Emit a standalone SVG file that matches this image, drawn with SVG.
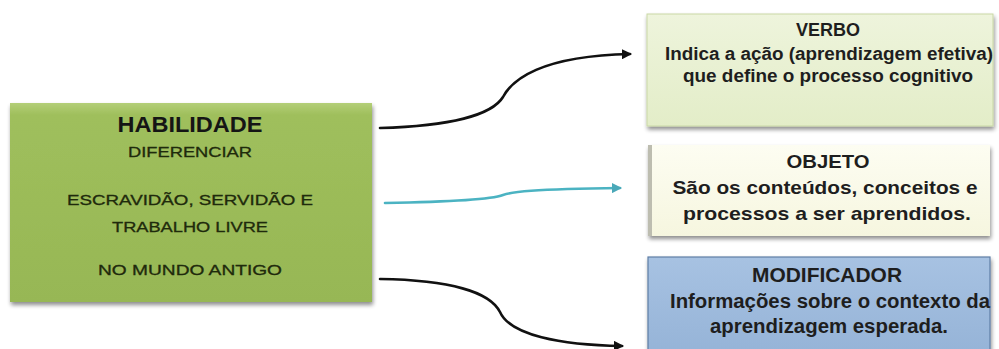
<svg xmlns="http://www.w3.org/2000/svg" width="999" height="349" viewBox="0 0 999 349">
<defs>
<style>
.t{font-family:"Liberation Sans",Arial,sans-serif;text-anchor:middle}
.b{font-weight:bold}
.dk{fill:#1e1e1e}
.gr{fill:#1f2a0c;stroke:#1f2a0c;stroke-width:0.3}
.con{fill:none;stroke-width:2.6;stroke-linecap:round}
</style>
<linearGradient id="gGreen" x1="0" y1="0" x2="0" y2="1">
<stop offset="0" stop-color="#b4cf78"/>
<stop offset="0.06" stop-color="#9fbf5c"/>
<stop offset="1" stop-color="#97b755"/>
</linearGradient>
<linearGradient id="gVerbo" x1="0" y1="0" x2="0" y2="1">
<stop offset="0" stop-color="#eef4dc"/>
<stop offset="1" stop-color="#e3edc8"/>
</linearGradient>
<linearGradient id="gObj" x1="0" y1="0" x2="0" y2="1">
<stop offset="0" stop-color="#fdfdf2"/>
<stop offset="1" stop-color="#f6f6df"/>
</linearGradient>
<linearGradient id="gMod" x1="0" y1="0" x2="0" y2="1">
<stop offset="0" stop-color="#a7c2e2"/>
<stop offset="1" stop-color="#95b3d7"/>
</linearGradient>
<filter id="sh" x="-5%" y="-5%" width="112%" height="115%">
<feGaussianBlur in="SourceAlpha" stdDeviation="2"/>
<feOffset dx="1" dy="3"/>
<feComponentTransfer><feFuncA type="linear" slope="0.45"/></feComponentTransfer>
<feMerge><feMergeNode/><feMergeNode in="SourceGraphic"/></feMerge>
</filter>
<marker id="arrK" viewBox="0 0 10 10" refX="8" refY="5" markerWidth="4" markerHeight="4" orient="auto" markerUnits="strokeWidth">
<path d="M0,0 L10,5 L0,10 z" fill="#111"/>
</marker>
<marker id="arrT" viewBox="0 0 10 10" refX="8" refY="5" markerWidth="4" markerHeight="4" orient="auto" markerUnits="strokeWidth">
<path d="M0,0 L10,5 L0,10 z" fill="#4aa8b8"/>
</marker>
</defs>
<rect width="999" height="349" fill="#ffffff"/>

<g id="connectors">
<path class="con" stroke="#111" marker-end="url(#arrK)" d="M380,128 C450,126 492,115 503,97 C512,80 540,56 630,54"/>
<path class="con" stroke="#4bb3c2" marker-end="url(#arrT)" d="M385,203 C440,202 490,200 503,195 C512,192 530,189 620,188"/>
<path class="con" stroke="#111" marker-end="url(#arrK)" d="M380,279 C450,280 490,292 500,312 C510,335 560,345 622,346"/>
</g>

<g id="habilidade">
<rect x="10" y="103" width="362" height="199" fill="url(#gGreen)" filter="url(#sh)"/>
<text class="t b" x="190" y="132" font-size="22" fill="#151515" textLength="145" lengthAdjust="spacingAndGlyphs">HABILIDADE</text>
<text class="t gr" x="190" y="157" font-size="14" textLength="124" lengthAdjust="spacingAndGlyphs">DIFERENCIAR</text>
<text class="t gr" x="190" y="205" font-size="14" textLength="246" lengthAdjust="spacingAndGlyphs">ESCRAVIDÃO, SERVIDÃO E</text>
<text class="t gr" x="190" y="232" font-size="14" textLength="156" lengthAdjust="spacingAndGlyphs">TRABALHO LIVRE</text>
<text class="t gr" x="190" y="275" font-size="14" textLength="184" lengthAdjust="spacingAndGlyphs">NO MUNDO ANTIGO</text>
</g>

<g id="verbo">
<rect x="647" y="14" width="346" height="112" fill="url(#gVerbo)" stroke="#c9d8a6" stroke-width="1" filter="url(#sh)"/>
<text class="t b dk" x="828" y="36" font-size="18" textLength="64" lengthAdjust="spacingAndGlyphs">VERBO</text>
<text class="t b dk" x="829" y="60" font-size="18" textLength="328" lengthAdjust="spacingAndGlyphs">Indica a ação (aprendizagem efetiva)</text>
<text class="t b dk" x="828" y="82" font-size="18" textLength="290" lengthAdjust="spacingAndGlyphs">que define o processo cognitivo</text>
</g>

<g id="objeto">
<rect x="648" y="145" width="342" height="91" fill="url(#gObj)" filter="url(#sh)"/>
<rect x="648" y="145" width="4" height="91" fill="#bdbdb0"/>
<text class="t b dk" x="828" y="168" font-size="19" textLength="83" lengthAdjust="spacingAndGlyphs">OBJETO</text>
<text class="t b dk" x="825" y="194" font-size="19" textLength="305" lengthAdjust="spacingAndGlyphs">São os conteúdos, conceitos e</text>
<text class="t b dk" x="827" y="220" font-size="19" textLength="288" lengthAdjust="spacingAndGlyphs">processos a ser aprendidos.</text>
</g>

<g id="modificador">
<rect x="648" y="257" width="342" height="100" fill="url(#gMod)" stroke="#5e7ea6" stroke-width="1.2" filter="url(#sh)"/>
<text class="t b dk" x="827" y="282" font-size="20" textLength="150" lengthAdjust="spacingAndGlyphs">MODIFICADOR</text>
<text class="t b dk" x="830" y="308" font-size="19.5" textLength="320" lengthAdjust="spacingAndGlyphs">Informações sobre o contexto da</text>
<text class="t b dk" x="829" y="333" font-size="19.5" textLength="238" lengthAdjust="spacingAndGlyphs">aprendizagem esperada.</text>
</g>
</svg>
